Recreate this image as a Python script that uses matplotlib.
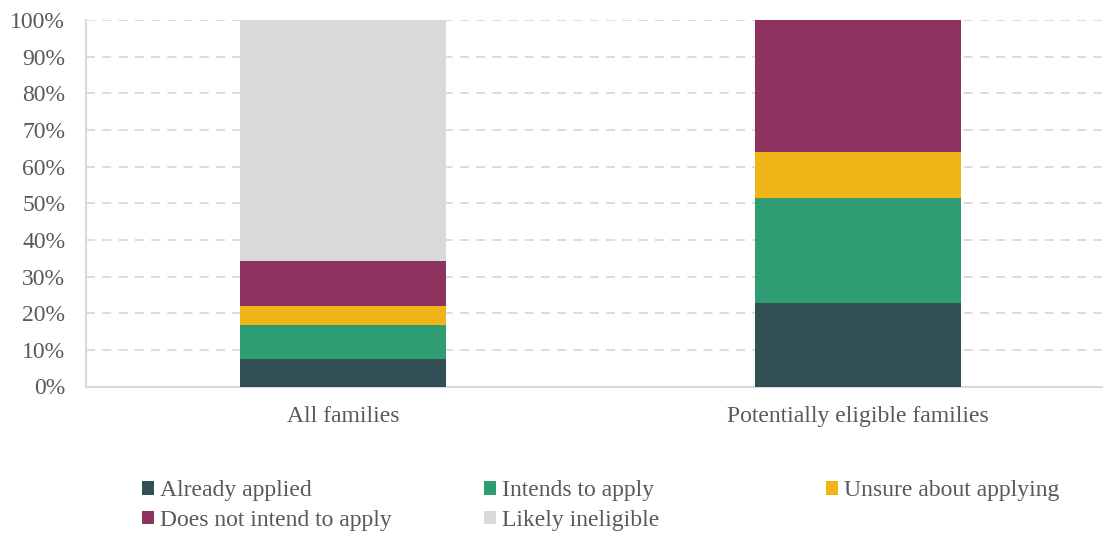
import matplotlib
matplotlib.use("Agg")
import matplotlib.pyplot as plt
from matplotlib.patches import Patch
import numpy as np

categories = ["All families", "Potentially eligible families"]
series_names = ["Already applied", "Intends to apply", "Unsure about applying",
                "Does not intend to apply", "Likely ineligible"]
already_applied = [7.4, 22.8]
intends_to_apply = [9.4, 28.7]
unsure_about_applying = [5.2, 12.4]
does_not_intend = [12.2, 36.1]
likely_ineligible = [65.8, 0.0]
colors = ["#324F55", "#2E9D73", "#F0B418", "#8C3360", "#D9D9D9"]

series = [already_applied, intends_to_apply, unsure_about_applying,
          does_not_intend, likely_ineligible]

plt.rcParams['font.family'] = ['Liberation Serif', 'DejaVu Serif']
FS = 17
TXT = "#595959"

fig = plt.figure(figsize=(11.06, 5.41), dpi=100)
ax = fig.add_axes([86/1106, 1-386.5/541, (1102-86)/1106, (386.5-20)/541])

x = np.arange(len(categories))
bottom = np.zeros(len(categories))
handles = []
for name, vals, c in zip(series_names, series, colors):
    ax.bar(x, vals, width=0.4, bottom=bottom, color=c, label=name, zorder=3)
    bottom += np.array(vals)
    handles.append(Patch(facecolor=c, edgecolor='none', label=name))

ax.set_ylim(0, 100)
ax.set_xlim(-0.499, 1.474)
ax.set_yticks(np.arange(0, 101, 10))
ax.set_yticklabels([f"{v}%" for v in range(0, 101, 10)])
ax.set_xticks(x)
ax.set_xticklabels(categories)
ax.tick_params(axis='y', length=0, pad=15, labelsize=FS, labelcolor=TXT)
ax.tick_params(axis='x', length=0, pad=14, labelsize=FS, labelcolor=TXT)
ax.yaxis.grid(True, linestyle=(0, (5, 4)), color="#D9D9D9", linewidth=1.3, zorder=0)
ax.set_axisbelow(True)
for s in ['top', 'right']:
    ax.spines[s].set_visible(False)
for s in ['left', 'bottom']:
    ax.spines[s].set_color("#D9D9D9")
    ax.spines[s].set_linewidth(1.5)

# legend in three columns placed like the reference
cols = [([handles[0], handles[3]], 142), ([handles[1], handles[4]], 484), ([handles[2]], 826)]
for hs, px in cols:
    fig.legend(handles=hs, loc='upper left', bbox_to_anchor=(px/1106, 1-480/541),
               frameon=False, fontsize=FS, labelcolor=TXT, handlelength=0.52,
               handleheight=0.52, handletextpad=0.25, borderpad=0, borderaxespad=0,
               labelspacing=0.38)

fig.savefig("out.png", dpi=100)
